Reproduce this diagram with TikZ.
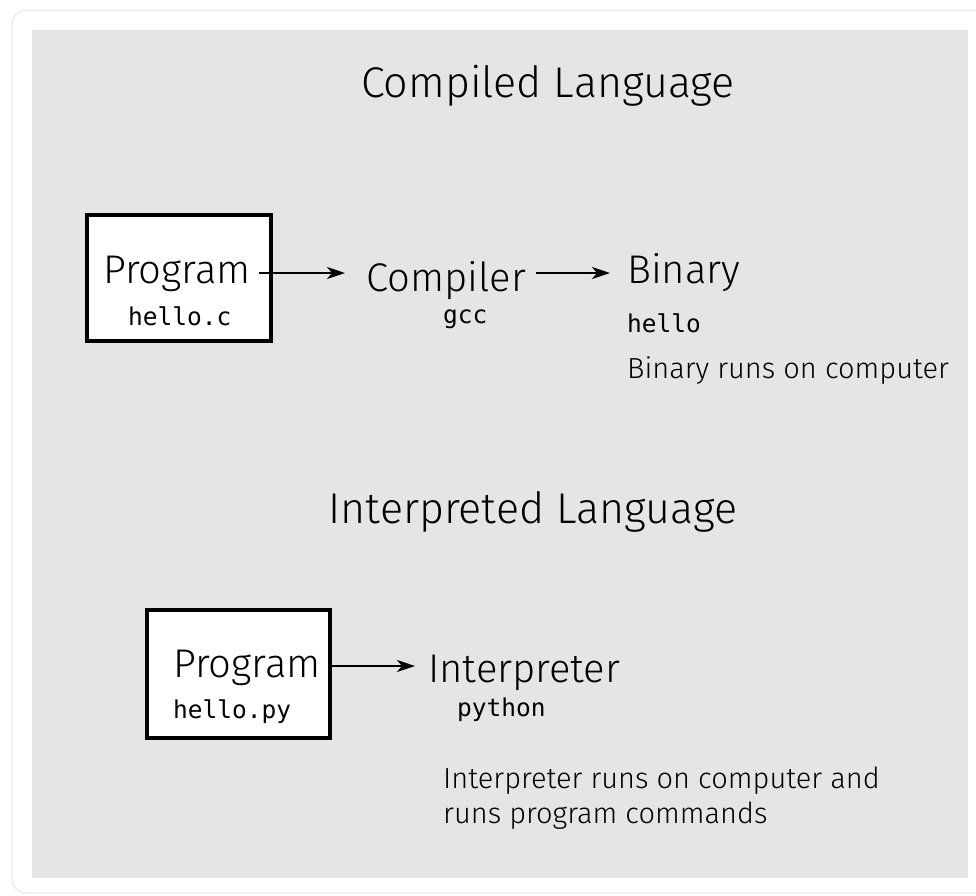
\documentclass[tikz,border=0pt]{standalone}
\usepackage{fontspec}
\setmainfont{Fira Sans}[UprightFont={* Light}]
\newfontfamily\monof{DejaVu Sans Mono}
\usetikzlibrary{arrows.meta}
\definecolor{panel}{HTML}{E5E5E5}
\definecolor{cardedge}{HTML}{EDEDED}
\tikzset{
  x=1pt, y=-1pt,
  txt/.style={inner sep=0pt, anchor=base west, font=\fontsize{40}{48}\selectfont},
  title/.style={inner sep=0pt, anchor=base, font=\fontsize{43}{52}\selectfont},
  small/.style={inner sep=0pt, anchor=base west, align=left, font=\fontsize{29}{35}\selectfont},
  code/.style={inner sep=0pt, anchor=base west, font=\fontsize{24.5}{30}\selectfont\monof},
  progbox/.style={draw=black, line width=4pt, fill=white},
  arr/.style={line width=2.4pt, -{Stealth[length=18pt,width=12pt,inset=5pt]}}
}
\begin{document}
\begin{tikzpicture}
\useasboundingbox (0,0) rectangle (976,895);
\fill[white] (0,0) rectangle (976,895);
\draw[cardedge, line width=1.5pt, fill=white, rounded corners=14pt] (12,10) rectangle (1000,893);
\fill[panel] (32,30) rectangle (968,878);

% Compiled language
\node[title] (t1) at (548,97) {Compiled Language};
\draw[progbox] (87,215) rectangle (271,341);
\node[txt] (prog1) at (103,283) {Program};
\node[code] (hc) at (128,325) {hello.c};
\node[txt] (comp) at (366,291) {Compiler};
\node[code] (gcc) at (443,323) {gcc};
\node[txt] (bin) at (627,283) {Binary};
\node[code] (hello) at (627,332) {hello};
\node[small] (binruns) at (627,378) {Binary runs on computer};
\coordinate (r1) at (0,273);
\draw[arr] ([xshift=8pt]prog1.east |- r1) -- ([xshift=-21pt]comp.west |- r1);
\draw[arr] ([xshift=10pt]comp.east |- r1) -- ([xshift=-17pt]bin.west |- r1);

% Interpreted language
\node[title] (t2) at (533,523) {Interpreted Language};
\draw[progbox] (147,610) rectangle (330,738);
\node[txt] (prog2) at (173,677) {Program};
\node[code] (hp) at (173,718) {hello.py};
\node[txt] (interp) at (428,682) {Interpreter};
\node[code] (py) at (457,716) {python};
\node[small] (intruns) at (443,823) {Interpreter runs on computer and\\runs program commands};
\coordinate (r2) at (0,666);
\draw[arr] ([xshift=8pt]prog2.east |- r2) -- ([xshift=-13pt]interp.west |- r2);
\end{tikzpicture}
\end{document}
